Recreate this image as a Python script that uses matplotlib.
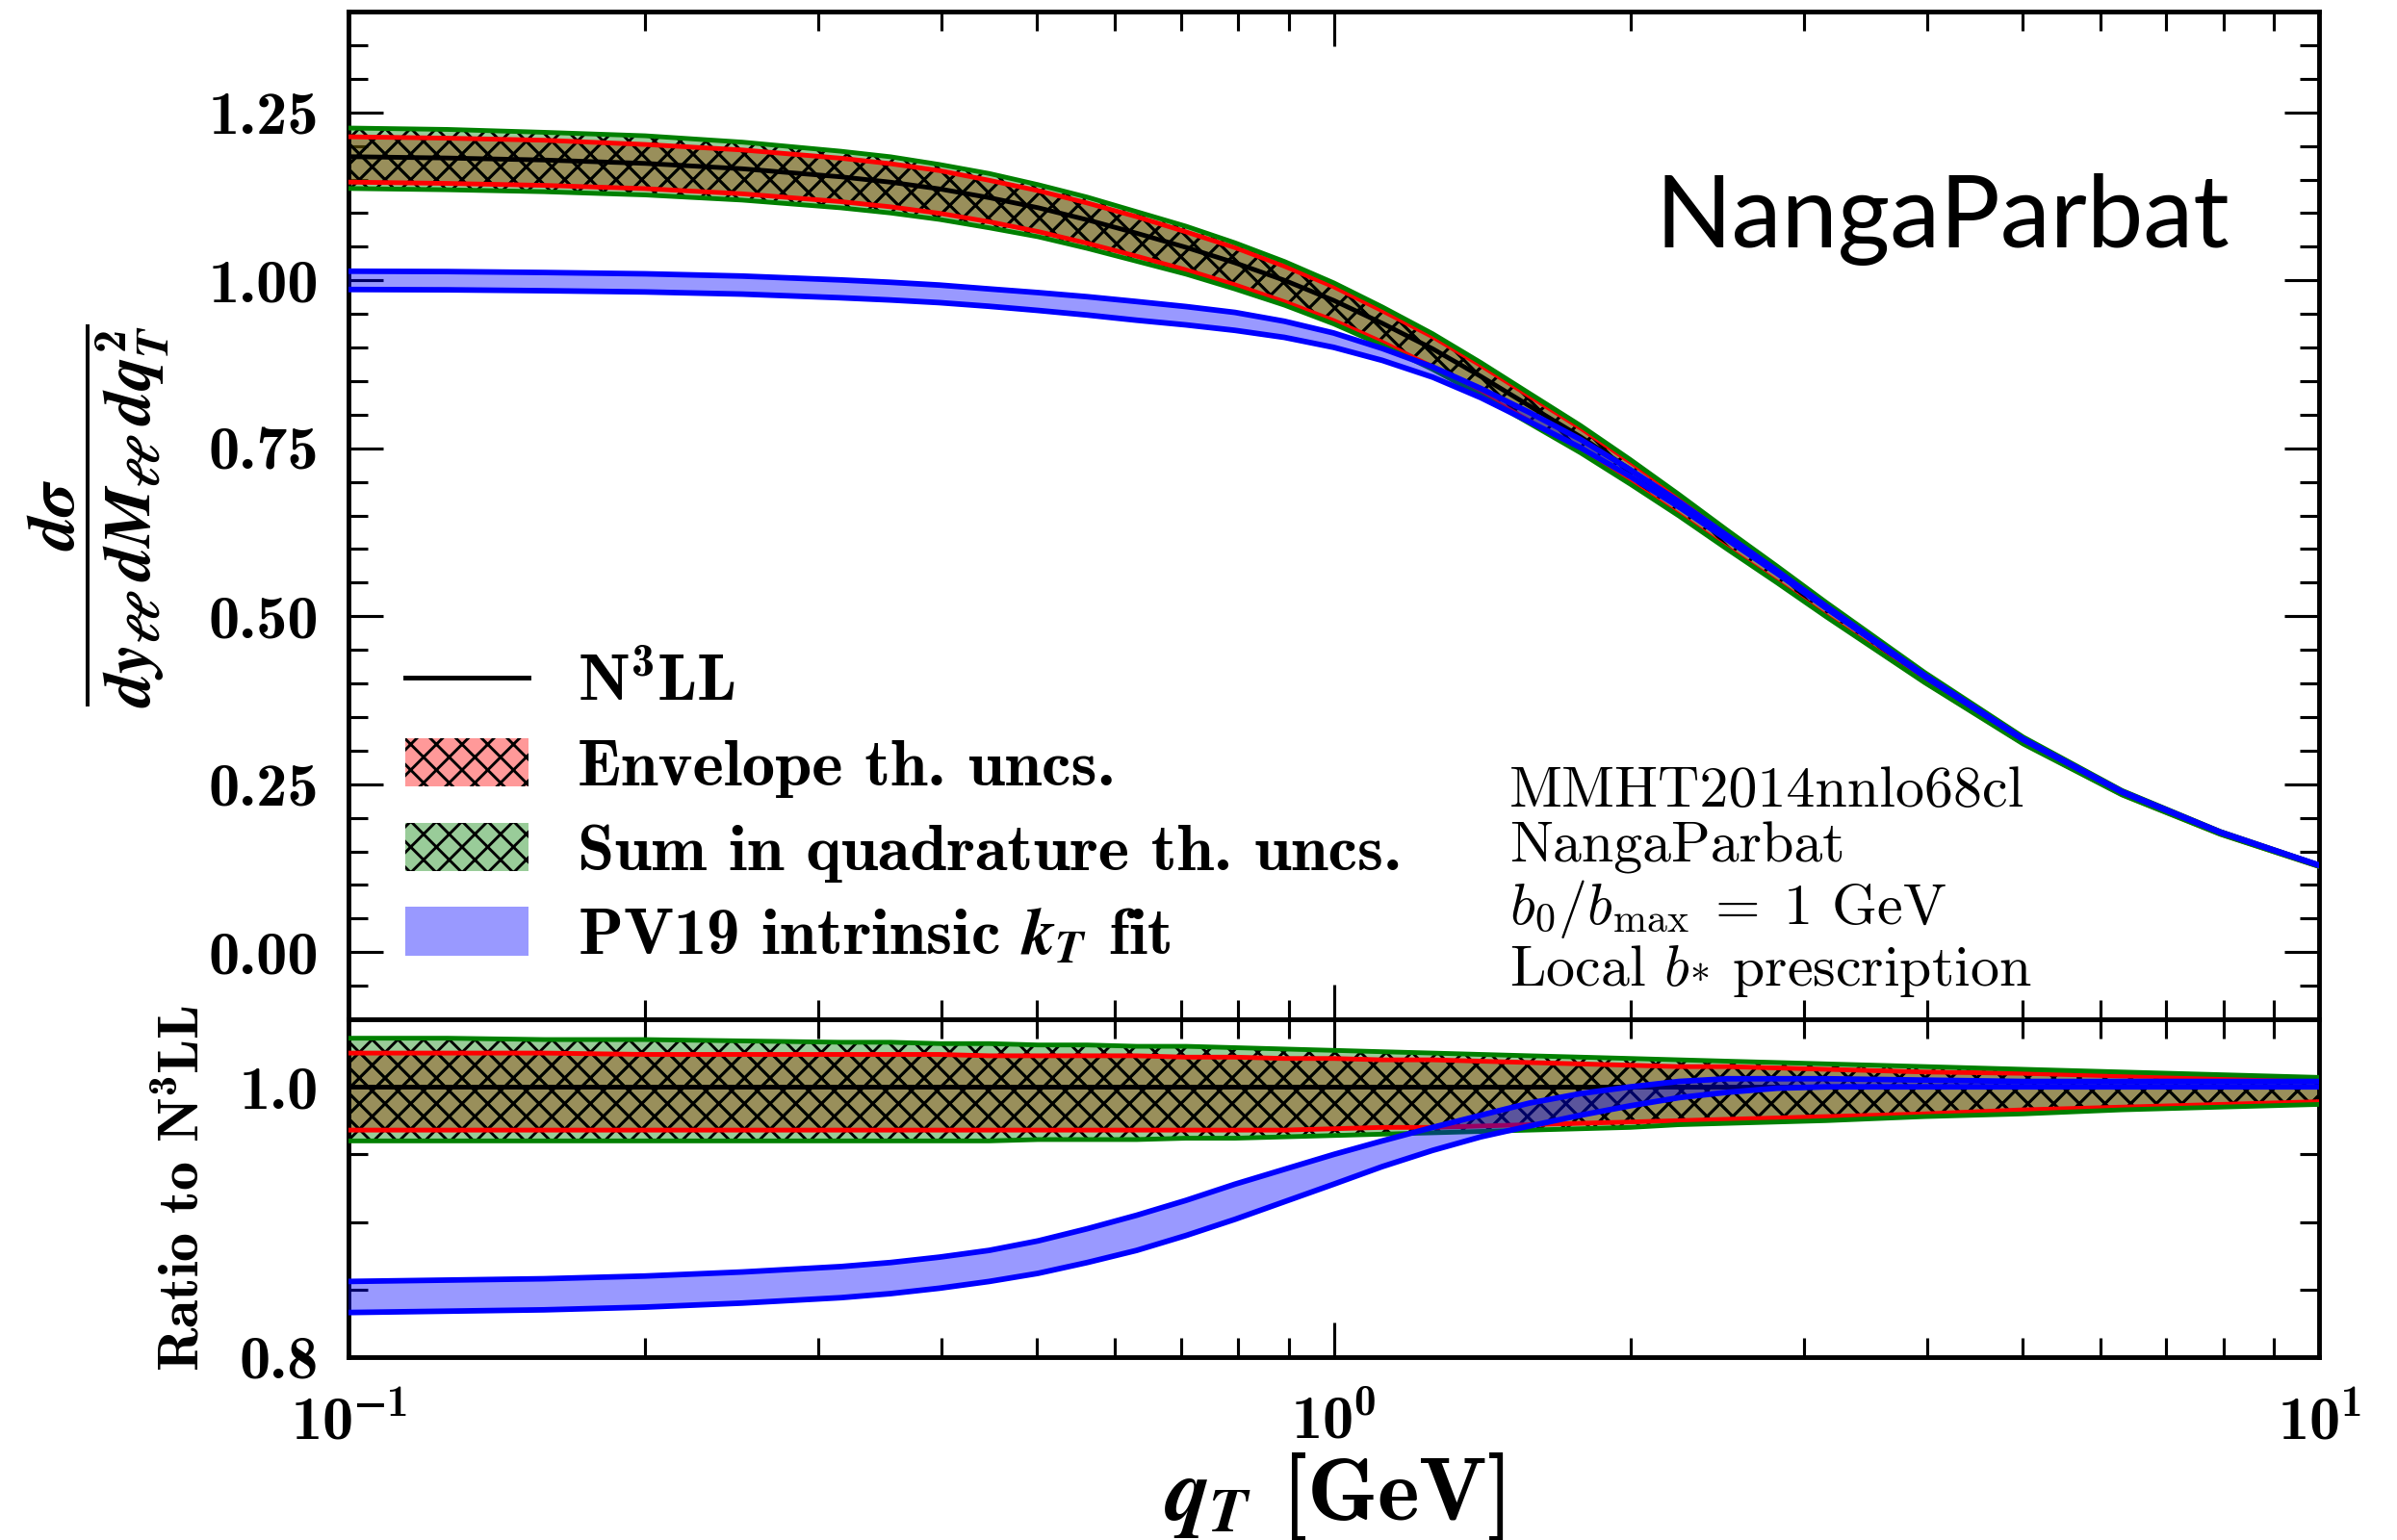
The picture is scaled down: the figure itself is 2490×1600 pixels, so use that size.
import numpy as np
import matplotlib
matplotlib.use('Agg')
import matplotlib.pyplot as plt
from matplotlib.patches import Patch
from matplotlib.lines import Line2D
from matplotlib.ticker import MultipleLocator, FormatStrFormatter, FuncFormatter, NullFormatter

# ---------------- data ----------------
qT = [0.100, 0.126, 0.158, 0.200, 0.251, 0.316, 0.355, 0.398, 0.447, 0.501,
      0.562, 0.631, 0.708, 0.794, 0.891, 1.00, 1.12, 1.26, 1.41, 1.58,
      1.78, 2.00, 2.24, 2.51, 2.82, 3.16, 3.98, 5.01, 6.31, 7.94, 10.0]

n3ll = [1.184, 1.182, 1.179, 1.174, 1.166, 1.154, 1.146, 1.136, 1.123, 1.108,
        1.090, 1.070, 1.049, 1.026, 1.000, 0.970, 0.936, 0.898, 0.857, 0.813,
        0.767, 0.718, 0.668, 0.616, 0.564, 0.512, 0.410, 0.316, 0.238, 0.178, 0.129]

# ratios to N3LL
env_hi = [1.025, 1.025, 1.025, 1.024, 1.024, 1.024, 1.024, 1.024, 1.023, 1.023,
          1.023, 1.023, 1.022, 1.022, 1.021, 1.021, 1.020, 1.020, 1.019, 1.018,
          1.017, 1.016, 1.015, 1.015, 1.014, 1.013, 1.011, 1.010, 1.008, 1.007, 1.005]
env_lo = [0.968, 0.968, 0.968, 0.968, 0.968, 0.968, 0.968, 0.968, 0.968, 0.968,
          0.968, 0.968, 0.968, 0.968, 0.968, 0.969, 0.970, 0.970, 0.971, 0.972,
          0.973, 0.974, 0.975, 0.976, 0.977, 0.978, 0.980, 0.983, 0.985, 0.987, 0.989]
quad_hi = [1.036, 1.036, 1.035, 1.035, 1.034, 1.033, 1.033, 1.032, 1.032, 1.031,
           1.031, 1.030, 1.030, 1.029, 1.028, 1.027, 1.026, 1.025, 1.024, 1.023,
           1.022, 1.021, 1.020, 1.019, 1.018, 1.017, 1.015, 1.013, 1.011, 1.009, 1.007]
quad_lo = [0.960, 0.960, 0.960, 0.960, 0.960, 0.960, 0.960, 0.960, 0.960, 0.961,
           0.961, 0.961, 0.962, 0.962, 0.963, 0.964, 0.965, 0.966, 0.967, 0.968,
           0.969, 0.970, 0.972, 0.973, 0.974, 0.975, 0.978, 0.980, 0.983, 0.985, 0.987]
pv19_hi = [0.856, 0.857, 0.858, 0.860, 0.863, 0.867, 0.870, 0.874, 0.879, 0.886,
           0.895, 0.905, 0.916, 0.928, 0.939, 0.950, 0.960, 0.970, 0.979, 0.988,
           0.995, 1.000, 1.004, 1.006, 1.006, 1.006, 1.005, 1.004, 1.004, 1.004, 1.004]
pv19_lo = [0.833, 0.834, 0.835, 0.837, 0.840, 0.844, 0.847, 0.851, 0.856, 0.862,
           0.870, 0.879, 0.890, 0.902, 0.915, 0.928, 0.941, 0.953, 0.963, 0.971,
           0.979, 0.986, 0.992, 0.996, 0.999, 1.000, 1.000, 1.000, 1.000, 1.000, 1.000]

legend_labels = ['N$^3$LL', 'Envelope th. uncs.', 'Sum in quadrature th. uncs.',
                 'PV19 intrinsic $k_T$ fit']
info_text = ('MMHT2014nnlo68cl\nNangaParbat\n'
             '$\\mathcal{b}_\\mathtt{0}\\mathtt{/}\\mathcal{b}_\\mathtt{max}\\mathtt{\\ =\\ 1}$ GeV\n'
             'Local $\\mathcal{b}_\\mathtt{*}$ prescription')

# ---------------- style ----------------
plt.rcParams.update({
    'font.family': ['cmb10', 'DejaVu Serif'],
    'mathtext.fontset': 'custom',
    'mathtext.rm': 'cmb10',
    'mathtext.bf': 'cmb10',
    'mathtext.it': 'STIXGeneral:italic:bold',
    'mathtext.sf': 'STIXGeneral:bold',
    'mathtext.cal': 'cmmi10',
    'mathtext.tt': 'cmr10',
    'axes.unicode_minus': False,
    'axes.formatter.use_mathtext': True,
    'hatch.linewidth': 1.3,
    'hatch.color': 'black',
    'axes.linewidth': 2.2,
})

RED_F = (1, 0, 0, 0.4)
GRN_F = (0, 0.5, 0, 0.4)
BLU_F = (0, 0, 1, 0.4)
HATCH = 'xx'

q = np.array(qT)
c = np.array(n3ll)
r_env_hi, r_env_lo = np.array(env_hi), np.array(env_lo)
r_quad_hi, r_quad_lo = np.array(quad_hi), np.array(quad_lo)
r_pv_hi, r_pv_lo = np.array(pv19_hi), np.array(pv19_lo)

fig = plt.figure(figsize=(15.5625, 10), dpi=160)
L = 362 / 2490
W = (2409 - 362) / 2490
ax = fig.add_axes([L, 1 - 1059 / 1600, W, (1059 - 12) / 1600])
rax = fig.add_axes([L, 1 - 1410 / 1600, W, (1410 - 1059) / 1600], sharex=ax)


def draw(a, cen, ehi, elo, qhi, qlo, phi, plo):
    a.fill_between(q, elo, ehi, facecolor=RED_F, edgecolor='k', hatch=HATCH, lw=0, zorder=2)
    a.fill_between(q, qlo, qhi, facecolor=GRN_F, edgecolor='k', hatch=HATCH, lw=0, zorder=2)
    for y in (elo, ehi):
        a.plot(q, y, color='red', lw=2.2, zorder=3)
    for y in (qlo, qhi):
        a.plot(q, y, color='green', lw=2.2, zorder=3)
    a.plot(q, cen, color='black', lw=2.2, zorder=4)
    a.fill_between(q, plo, phi, facecolor=BLU_F, lw=0, zorder=5)
    for y in (plo, phi):
        a.plot(q, y, color='blue', lw=2.6, zorder=6)


draw(ax, c, c * r_env_hi, c * r_env_lo, c * r_quad_hi, c * r_quad_lo, c * r_pv_hi, c * r_pv_lo)
draw(rax, c / c, r_env_hi, r_env_lo, r_quad_hi, r_quad_lo, r_pv_hi, r_pv_lo)

for a in (ax, rax):
    a.set_xscale('log')
    a.tick_params(which='both', direction='in', top=True, right=True, width=1.4,
                  labelsize=29)
    a.tick_params(which='major', length=16)
    a.tick_params(which='minor', length=9)
    a.tick_params(axis='y', pad=14)
    a.tick_params(axis='x', pad=17)

ax.set_xlim(0.1, 10)
ax.set_ylim(-0.1, 1.4)
ax.yaxis.set_major_locator(MultipleLocator(0.25))
ax.yaxis.set_minor_locator(MultipleLocator(0.05))
ax.yaxis.set_major_formatter(FormatStrFormatter('%.2f'))
ax.tick_params(labelbottom=False)

rax.set_ylim(0.8, 1.05)
rax.yaxis.set_major_locator(MultipleLocator(0.2))
rax.yaxis.set_minor_locator(MultipleLocator(0.05))
rax.yaxis.set_major_formatter(FormatStrFormatter('%.1f'))


def logfmt(x, pos):
    e = int(round(np.log10(x)))
    if e < 0:
        return r'$10^{\mathsf{-}%d}$' % (-e)
    return r'$10^{%d}$' % e


rax.xaxis.set_major_formatter(FuncFormatter(logfmt))
rax.xaxis.set_minor_formatter(NullFormatter())

ax.set_ylabel(r'$\dfrac{d\sigma}{dy_{\ell\ell}\;dM_{\ell\ell}\;dq_T^2}$', fontsize=31)
ax.yaxis.set_label_coords(-0.090, 0.5)
rax.set_ylabel('Ratio to N$^3$LL', fontsize=27)
rax.yaxis.set_label_coords(-0.070, 0.5)
rax.set_xlabel(r'$q_T$ [GeV]', fontsize=42, labelpad=0)

handles = [Line2D([], [], color='k', lw=2.2),
           Patch(facecolor=RED_F, edgecolor='k', hatch=HATCH, lw=0),
           Patch(facecolor=GRN_F, edgecolor='k', hatch=HATCH, lw=0),
           Patch(facecolor=BLU_F, lw=0)]
ax.legend(handles, legend_labels, loc='lower left', bbox_to_anchor=(0.029, 0.052),
          frameon=False, fontsize=31, borderpad=0, borderaxespad=0,
          handlelength=1.85, handleheight=0.75, handletextpad=0.75, labelspacing=0.37)

ax.text(0.589, 0.020, info_text, transform=ax.transAxes, family=['cmr10', 'DejaVu Serif'],
        fontsize=27, va='bottom', ha='left', linespacing=1.08)
ax.text(0.663, 0.766, 'NangaParbat', transform=ax.transAxes, family='Lato',
        fontsize=47, va='baseline', ha='left')

fig.savefig('out.png', dpi=160)
